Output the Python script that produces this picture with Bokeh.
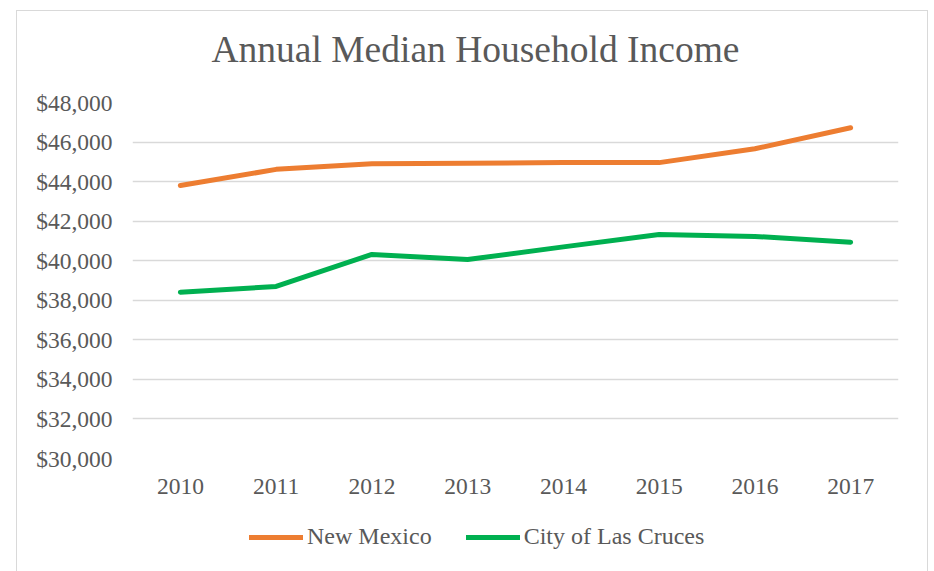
from bokeh.plotting import figure
from bokeh.models import FactorRange, Range1d, FixedTicker, NumeralTickFormatter, Legend, LegendItem, Spacer, Label
from bokeh.layouts import row, column
from bokeh.embed import file_html
from bokeh.resources import INLINE

title_text = "Annual Median Household Income"
years = ["2010", "2011", "2012", "2013", "2014", "2015", "2016", "2017"]
new_mexico = [43800, 44620, 44900, 44930, 44960, 44960, 45660, 46720]
las_cruces = [38410, 38700, 40320, 40060, 40700, 41330, 41230, 40940]
y_ticks = [30000, 32000, 34000, 36000, 38000, 40000, 42000, 44000, 46000, 48000]
series_names = ["New Mexico", "City of Las Cruces"]
series_values = [new_mexico, las_cruces]
series_colors = ["#ED7D31", "#00B050"]

FONT = "Liberation Serif"
TXT = "#595959"
BORDER = "1.5px solid #d9d9d9"

def strip(height, border):
    f = figure(width=912, height=height, x_range=Range1d(0, 1), y_range=Range1d(0, 1),
               output_backend="svg", toolbar_location=None,
               min_border_left=0, min_border_right=0, min_border_top=0, min_border_bottom=0)
    f.styles = dict(border, **{"box-sizing": "border-box"})
    f.axis.visible = False
    f.grid.visible = False
    f.outline_line_color = None
    f.border_fill_color = "white"
    return f

# header strip with the title
h = strip(60, {"border-top": BORDER, "border-left": BORDER, "border-right": BORDER})
h.add_layout(Label(x=79, y=22, x_units="screen", y_units="screen", text=title_text,
                   text_font=FONT, text_font_size="37.5px", text_color=TXT,
                   text_align="left", text_baseline="middle"))

p = figure(width=912, height=440, x_range=FactorRange(*years, range_padding=0),
           y_range=Range1d(30000, 48000), output_backend="svg", toolbar_location=None,
           min_border_left=115, min_border_right=31, min_border_top=32, min_border_bottom=52)
p.styles = {"border-left": BORDER, "border-right": BORDER, "box-sizing": "border-box"}
p.outline_line_color = None
p.background_fill_color = "white"
p.border_fill_color = "white"

for vals, col in zip(series_values, series_colors):
    p.line(years, vals, line_color=col, line_width=5, line_cap="round", line_join="round")

p.yaxis.ticker = FixedTicker(ticks=y_ticks)
p.yaxis.formatter = NumeralTickFormatter(format="$0,0")
for ax in (p.xaxis[0], p.yaxis[0]):
    ax.axis_line_color = None
    ax.major_tick_line_color = None
    ax.minor_tick_line_color = None
    ax.major_label_text_font = FONT
    ax.major_label_text_font_size = "23.5px"
    ax.major_label_text_color = TXT
p.yaxis.major_label_standoff = 14
p.xaxis.major_label_standoff = 14

p.xgrid.grid_line_color = None
p.ygrid.grid_line_color = "#d9d9d9"
p.ygrid.grid_line_width = 1.5

# legend strip below the chart (series drawn out of view; only the legend shows)
q = figure(width=912, height=61, x_range=FactorRange(*years, range_padding=0), y_range=Range1d(0, 1),
           output_backend="svg", toolbar_location=None,
           min_border_left=0, min_border_right=0, min_border_top=0, min_border_bottom=0)
q.styles = {"border-left": BORDER, "border-right": BORDER, "box-sizing": "border-box"}
q.axis.visible = False
q.grid.visible = False
q.outline_line_color = None
q.border_fill_color = "white"
items = []
for name, vals, col in zip(series_names, series_values, series_colors):
    r = q.line(years, vals, line_color=col, line_width=5, line_cap="round")
    items.append(LegendItem(label=name, renderers=[r]))
legend = Legend(items=items, orientation="horizontal", location=(117, 21),
                glyph_width=54, glyph_height=20, label_standoff=4, spacing=34,
                padding=0, margin=0, border_line_color=None, background_fill_alpha=0,
                label_text_font=FONT, label_text_font_size="24px", label_text_color=TXT)
q.add_layout(legend, "center")

layout = column(Spacer(width=10, height=10),
                row(Spacer(width=16, height=10), column(h, p, q, spacing=0)), spacing=0)
open("out.html", "w").write(file_html(layout, INLINE))
